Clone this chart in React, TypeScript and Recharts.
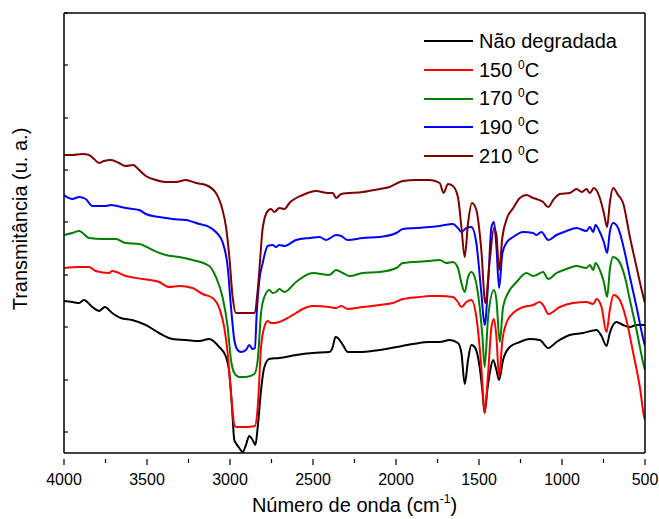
import { LineChart, Line, XAxis, YAxis } from 'recharts';

// wavenumber (cm-1) / transmittance (a.u.)
const naoDegradada: [number, number][] = [
  [4000, 152], [3950, 151], [3909, 150], [3880, 153], [3829, 146], [3789, 142], [3754, 146], [3710, 140],
  [3658, 135], [3590, 133], [3507, 128], [3427, 120], [3346, 114], [3266, 113], [3185, 112], [3125, 114],
  [3065, 106], [3024, 96], [3004, 80], [2988, 46], [2974, 13], [2965, 10], [2944, 5], [2924, 1],
  [2904, 8], [2884, 17], [2864, 13], [2847, 8], [2833, 26], [2813, 63], [2793, 86], [2763, 94],
  [2703, 95], [2602, 98], [2502, 100], [2401, 101], [2381, 106], [2365, 116], [2350, 115], [2340, 113],
  [2320, 108], [2290, 101], [2200, 101], [2099, 103], [1998, 106], [1898, 109], [1797, 111], [1737, 111],
  [1677, 113], [1627, 110], [1606, 100], [1586, 69], [1566, 93], [1546, 108], [1526, 106], [1496, 86],
  [1480, 63], [1466, 40], [1450, 63], [1435, 80], [1415, 93], [1395, 83], [1379, 73], [1355, 93],
  [1315, 106], [1254, 111], [1194, 114], [1134, 113], [1083, 105], [1033, 111], [953, 118], [872, 120],
  [792, 123], [762, 117], [732, 107], [712, 120], [672, 131], [632, 128], [591, 126], [551, 128], [500, 128],
];

const c150: [number, number][] = [
  [4000, 185], [3909, 186], [3849, 186], [3809, 182], [3728, 180], [3710, 182], [3628, 177], [3527, 174],
  [3427, 171], [3366, 166], [3306, 167], [3226, 165], [3165, 159], [3105, 155], [3065, 145], [3035, 126],
  [3014, 100], [2994, 60], [2974, 28], [2965, 26], [2900, 26], [2850, 27], [2833, 46], [2813, 106],
  [2793, 126], [2773, 132], [2753, 130], [2733, 130], [2703, 131], [2642, 136], [2602, 140], [2562, 144],
  [2502, 147], [2401, 146], [2361, 145], [2330, 147], [2290, 144], [2200, 146], [2099, 148], [2019, 150],
  [1959, 154], [1858, 156], [1797, 157], [1737, 157], [1657, 156], [1627, 151], [1606, 146], [1576, 151],
  [1546, 153], [1516, 136], [1486, 86], [1466, 40], [1445, 80], [1425, 126], [1410, 134], [1395, 116],
  [1379, 76], [1359, 113], [1335, 130], [1294, 140], [1234, 146], [1174, 148], [1134, 151], [1110, 147],
  [1083, 139], [1013, 146], [933, 150], [853, 151], [812, 149], [792, 154], [762, 146], [732, 121],
  [712, 143], [690, 158], [652, 153], [612, 133], [571, 100], [531, 66], [505, 36], [500, 33],
];

const c170: [number, number][] = [
  [4000, 218], [3950, 220], [3909, 222], [3849, 215], [3769, 214], [3688, 214], [3628, 210], [3547, 209],
  [3467, 203], [3386, 198], [3306, 196], [3226, 193], [3125, 187], [3085, 176], [3045, 156], [3014, 126],
  [2994, 93], [2974, 80], [2944, 76], [2904, 76], [2853, 79], [2833, 93], [2813, 140], [2793, 156],
  [2763, 163], [2743, 160], [2723, 161], [2703, 164], [2672, 161], [2602, 171], [2502, 180], [2401, 178],
  [2361, 183], [2320, 180], [2280, 177], [2200, 180], [2099, 181], [1998, 185], [1959, 190], [1797, 192],
  [1737, 193], [1697, 190], [1657, 191], [1627, 185], [1606, 170], [1586, 161], [1566, 176], [1546, 181],
  [1526, 176], [1496, 146], [1480, 118], [1466, 86], [1445, 136], [1410, 163], [1395, 153], [1375, 111],
  [1355, 146], [1325, 160], [1274, 171], [1214, 180], [1174, 177], [1154, 178], [1114, 181], [1083, 174],
  [1033, 180], [973, 184], [913, 187], [853, 185], [832, 188], [812, 183], [798, 190], [772, 183],
  [748, 171], [728, 156], [712, 183], [692, 196], [662, 193], [621, 176], [591, 153], [551, 123],
  [505, 86], [500, 83],
];

const c190: [number, number][] = [
  [4000, 258], [3950, 254], [3909, 256], [3869, 254], [3829, 247], [3748, 247], [3718, 248], [3628, 245],
  [3547, 243], [3507, 239], [3427, 236], [3346, 234], [3266, 233], [3185, 229], [3125, 226], [3085, 221],
  [3045, 211], [3014, 186], [2994, 146], [2974, 113], [2954, 103], [2934, 101], [2904, 103], [2884, 108],
  [2864, 104], [2850, 105], [2839, 140], [2823, 173], [2803, 190], [2773, 207], [2743, 208], [2723, 206],
  [2703, 208], [2672, 207], [2602, 213], [2522, 215], [2461, 216], [2421, 213], [2361, 218], [2330, 217],
  [2290, 213], [2200, 215], [2099, 216], [1998, 220], [1959, 224], [1878, 225], [1797, 226], [1737, 227],
  [1657, 229], [1627, 225], [1606, 221], [1576, 225], [1546, 226], [1516, 210], [1486, 160], [1466, 128],
  [1445, 170], [1425, 226], [1410, 231], [1395, 206], [1379, 165], [1359, 200], [1335, 210], [1294, 216],
  [1234, 221], [1174, 220], [1154, 218], [1124, 221], [1083, 213], [1033, 218], [973, 222], [913, 225],
  [853, 222], [832, 226], [812, 221], [798, 228], [772, 221], [748, 211], [728, 200], [712, 221],
  [692, 230], [662, 225], [621, 200], [591, 176], [551, 146], [505, 110], [500, 107],
];

const c210: [number, number][] = [
  [4000, 298], [3950, 298], [3889, 299], [3849, 298], [3819, 294], [3789, 290], [3759, 292], [3718, 293],
  [3668, 290], [3628, 287], [3584, 288], [3547, 283], [3507, 277], [3447, 273], [3386, 271], [3326, 271],
  [3266, 273], [3205, 270], [3145, 268], [3085, 260], [3045, 243], [3024, 226], [3004, 196], [2984, 156],
  [2964, 140], [2900, 140], [2853, 140], [2833, 163], [2820, 190], [2803, 225], [2773, 242], [2753, 244],
  [2733, 241], [2703, 245], [2672, 244], [2642, 250], [2562, 258], [2481, 262], [2411, 260], [2381, 260],
  [2361, 255], [2330, 259], [2200, 261], [2099, 264], [2039, 266], [1959, 272], [1878, 273], [1797, 273],
  [1737, 270], [1713, 260], [1687, 269], [1657, 267], [1627, 256], [1606, 226], [1586, 196], [1566, 230],
  [1542, 250], [1516, 243], [1486, 203], [1462, 150], [1435, 193], [1410, 225], [1395, 218], [1379, 183],
  [1359, 216], [1331, 235], [1294, 245], [1254, 255], [1214, 258], [1174, 255], [1154, 254], [1114, 251],
  [1083, 246], [1053, 253], [1013, 259], [953, 260], [913, 264], [880, 261], [853, 264], [832, 260],
  [808, 265], [772, 255], [748, 240], [728, 226], [712, 250], [692, 265], [662, 258], [632, 250],
  [591, 216], [551, 186], [505, 153], [500, 150],
];

const seriesNames = ['Não degradada', '150', '170', '190', '210'];
const seriesColors = ['#000000', '#ff0000', '#008000', '#0000ff', '#800000'];
const seriesData = [naoDegradada, c150, c170, c190, c210];

const xTicks = [4000, 3750, 3500, 3250, 3000, 2750, 2500, 2250, 2000, 1750, 1500, 1250, 1000, 750, 500];
const yTicks = [21, 73, 126, 178, 231, 283, 335, 388, 440];

const FONT = '"Liberation Sans", Arial, sans-serif';

const XTick = (props: any) => {
  const { x, y, payload } = props;
  const major = payload.value % 500 === 0;
  const axisY = y;
  return (
    <g>
      <line x1={x} x2={x} y1={axisY} y2={axisY + (major ? 6 : 4)} stroke="#000" strokeWidth={1.2} />
      {major && (
        <text x={x} y={axisY + 26} textAnchor="middle" fontSize={16} fontFamily={FONT} fill="#000">
          {payload.value}
        </text>
      )}
    </g>
  );
};

const NoTick = () => <g />;

const XTitle = (props: any) => {
  const { viewBox } = props;
  const cx = viewBox.x + viewBox.width / 2;
  return (
    <text x={cx} y={viewBox.y + 59} textAnchor="middle" fontSize={20} fontFamily={FONT} fill="#000">
      Número de onda (cm
      <tspan fontSize={12} dy={-9}>-1</tspan>
      <tspan dy={9}>)</tspan>
    </text>
  );
};

const YTitle = () => (
  <text
    x={27}
    y={219}
    transform="rotate(-90, 27, 219)"
    textAnchor="middle"
    fontSize={20}
    fontFamily={FONT}
    fill="#000"
  >
    Transmitância (u. a.)
  </text>
);

export default function App() {
  return (
    <div style={{ position: 'absolute', left: 0, top: 0, width: 659, height: 519, background: '#fff' }}>
      <LineChart width={659} height={519} margin={{ top: 12, right: 13, bottom: 65, left: 64 }}>
        <XAxis
          type="number"
          dataKey="w"
          domain={[500, 4000]}
          reversed
          ticks={xTicks}
          interval={0}
          height={1}
          tickLine={false}
          tickSize={6}
          tickMargin={0}
          tick={<XTick />}
          axisLine={{ stroke: '#000', strokeWidth: 1.5 }}
          allowDataOverflow
          label={<XTitle />}
        />
        <XAxis
          xAxisId="top"
          orientation="top"
          type="number"
          domain={[500, 4000]}
          reversed
          height={1}
          tick={false}
          tickLine={false}
          axisLine={{ stroke: '#000', strokeWidth: 1.5 }}
        />
        <YAxis
          type="number"
          domain={[0, 440]}
          ticks={yTicks}
          interval={0}
          width={1}
          mirror
          tickSize={4}
          tick={<NoTick />}
          tickLine={{ stroke: '#000', strokeWidth: 1.2 }}
          axisLine={{ stroke: '#000', strokeWidth: 1.5 }}
          allowDataOverflow
          label={<YTitle />}
        />
        <YAxis
          yAxisId="right"
          orientation="right"
          type="number"
          domain={[0, 440]}
          width={1}
          tick={false}
          tickLine={false}
          axisLine={{ stroke: '#000', strokeWidth: 1.5 }}
        />
        {seriesData.map((s, i) => (
          <Line
            key={seriesNames[i]}
            data={s.map(([w, t]) => ({ w, t }))}
            dataKey="t"
            type="monotone"
            stroke={seriesColors[i]}
            strokeWidth={2}
            dot={false}
            isAnimationActive={false}
          />
        ))}
      </LineChart>
      <div
        style={{
          position: 'absolute',
          left: 424,
          top: 27,
          fontFamily: FONT,
          fontSize: 20,
          color: '#000',
          lineHeight: '28.7px',
        }}
      >
        {seriesNames.map((name, i) => (
          <div key={name} style={{ display: 'flex', alignItems: 'center', height: 28.7 }}>
            <span style={{ display: 'inline-block', width: 49, height: 2, background: seriesColors[i], marginRight: 6 }} />
            {i === 0 ? (
              <span>{name}</span>
            ) : (
              <span>
                {name}{' '}
                <sup style={{ fontSize: 12, verticalAlign: 'top', lineHeight: '18px' }}>0</sup>C
              </span>
            )}
          </div>
        ))}
      </div>
    </div>
  );
}
